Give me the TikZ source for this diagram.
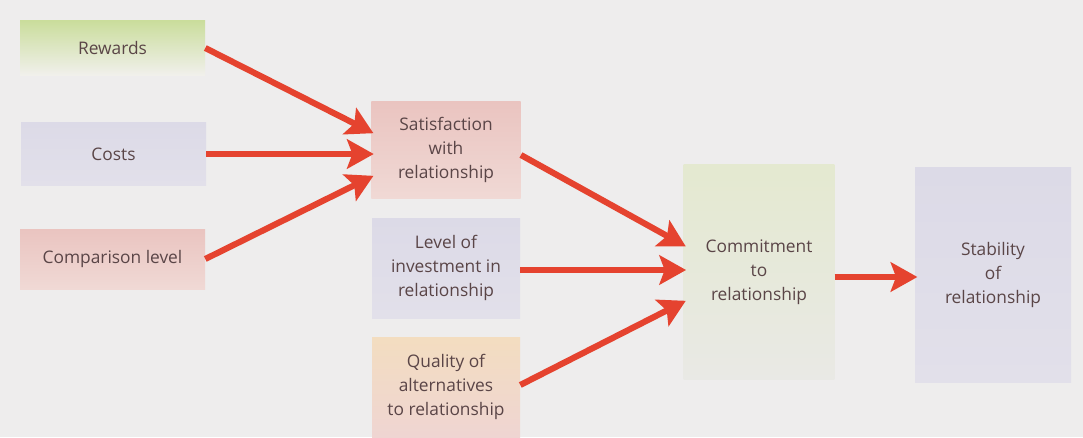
\documentclass[tikz,border=0pt]{standalone}
\usepackage{fontspec}
\setmainfont{Open Sans}
\usetikzlibrary{arrows.meta,calc}
\definecolor{bg}{HTML}{EEEDED}
\definecolor{txt}{HTML}{5A4547}
\definecolor{arr}{HTML}{E5432F}
\definecolor{rewtop}{HTML}{CADD9C}
\definecolor{rewbot}{HTML}{F1F0EC}
\definecolor{lavtop}{HTML}{DCDAE7}
\definecolor{lavbot}{HTML}{E2E0EA}
\definecolor{pinktop}{HTML}{EAC4C0}
\definecolor{pinkbot}{HTML}{F0D9D5}
\definecolor{qualtop}{HTML}{F3DDC0}
\definecolor{qualbot}{HTML}{EFD5D2}
\definecolor{comtop}{HTML}{E4E9D0}
\definecolor{combot}{HTML}{E9E9E5}
\tikzset{
  box/.style={draw=none,inner sep=0pt,align=center,text=txt,font=\fontsize{13}{18}\selectfont},
  link/.style={draw=arr,line width=4.6pt,-{Stealth[length=20pt,width=22pt,inset=4pt]},shorten >=-2pt}
}
\begin{document}
\begin{tikzpicture}[x=0.75pt,y=-0.75pt]
\fill[bg] (0,0) rectangle (1083,437);
\useasboundingbox (0,0) rectangle (1083,437);
% boxes
\node[box,minimum width=138.75pt,minimum height=41pt,top color=rewtop,bottom color=rewbot] (rew) at (112.5,48) {Rewards};
\node[box,minimum width=138.75pt,minimum height=47pt,top color=lavtop,bottom color=lavbot] (cost) at (113.5,154) {Costs};
\node[box,minimum width=138.75pt,minimum height=45pt,top color=pinktop,bottom color=pinkbot] (comp) at (112.5,259) {Comparison level};
\node[box,minimum width=112pt,minimum height=73pt,top color=pinktop,bottom color=pinkbot] (sat) at (446,150) {Satisfaction\\with\\relationship};
\node[box,minimum width=111pt,minimum height=75pt,top color=lavtop,bottom color=lavbot] (inv) at (446,268) {Level of\\investment in\\relationship};
\node[box,minimum width=111pt,minimum height=75pt,top color=qualtop,bottom color=qualbot] (qual) at (446,387) {Quality of\\alternatives\\to relationship};
\node[box,minimum width=113pt,minimum height=161pt,top color=comtop,bottom color=combot] (com) at (759,272) {Commitment\\to\\relationship};
\node[box,minimum width=117pt,minimum height=161pt,top color=lavtop,bottom color=lavbot] (stab) at (993,275) {Stability\\of\\relationship};
% arrows
\draw[link] (rew.east) -- ($(sat.west)+(0,-18)$);
\draw[link] (cost.east) -- (sat.west |- cost.east);
\draw[link] (comp.east) -- ($(sat.west)+(0,27)$);
\draw[link] ($(sat.east)+(0,5)$) -- ($(com.west)+(0,-27)$);
\draw[link] ($(inv.east)+(0,2)$) -- ($(com.west)+(0,-2)$);
\draw[link] ($(qual.east)+(0,-2)$) -- ($(com.west)+(0,30)$);
\draw[link] ($(com.east)+(0,5)$) -- ($(stab.west)+(0,2)$);
\end{tikzpicture}
\end{document}
